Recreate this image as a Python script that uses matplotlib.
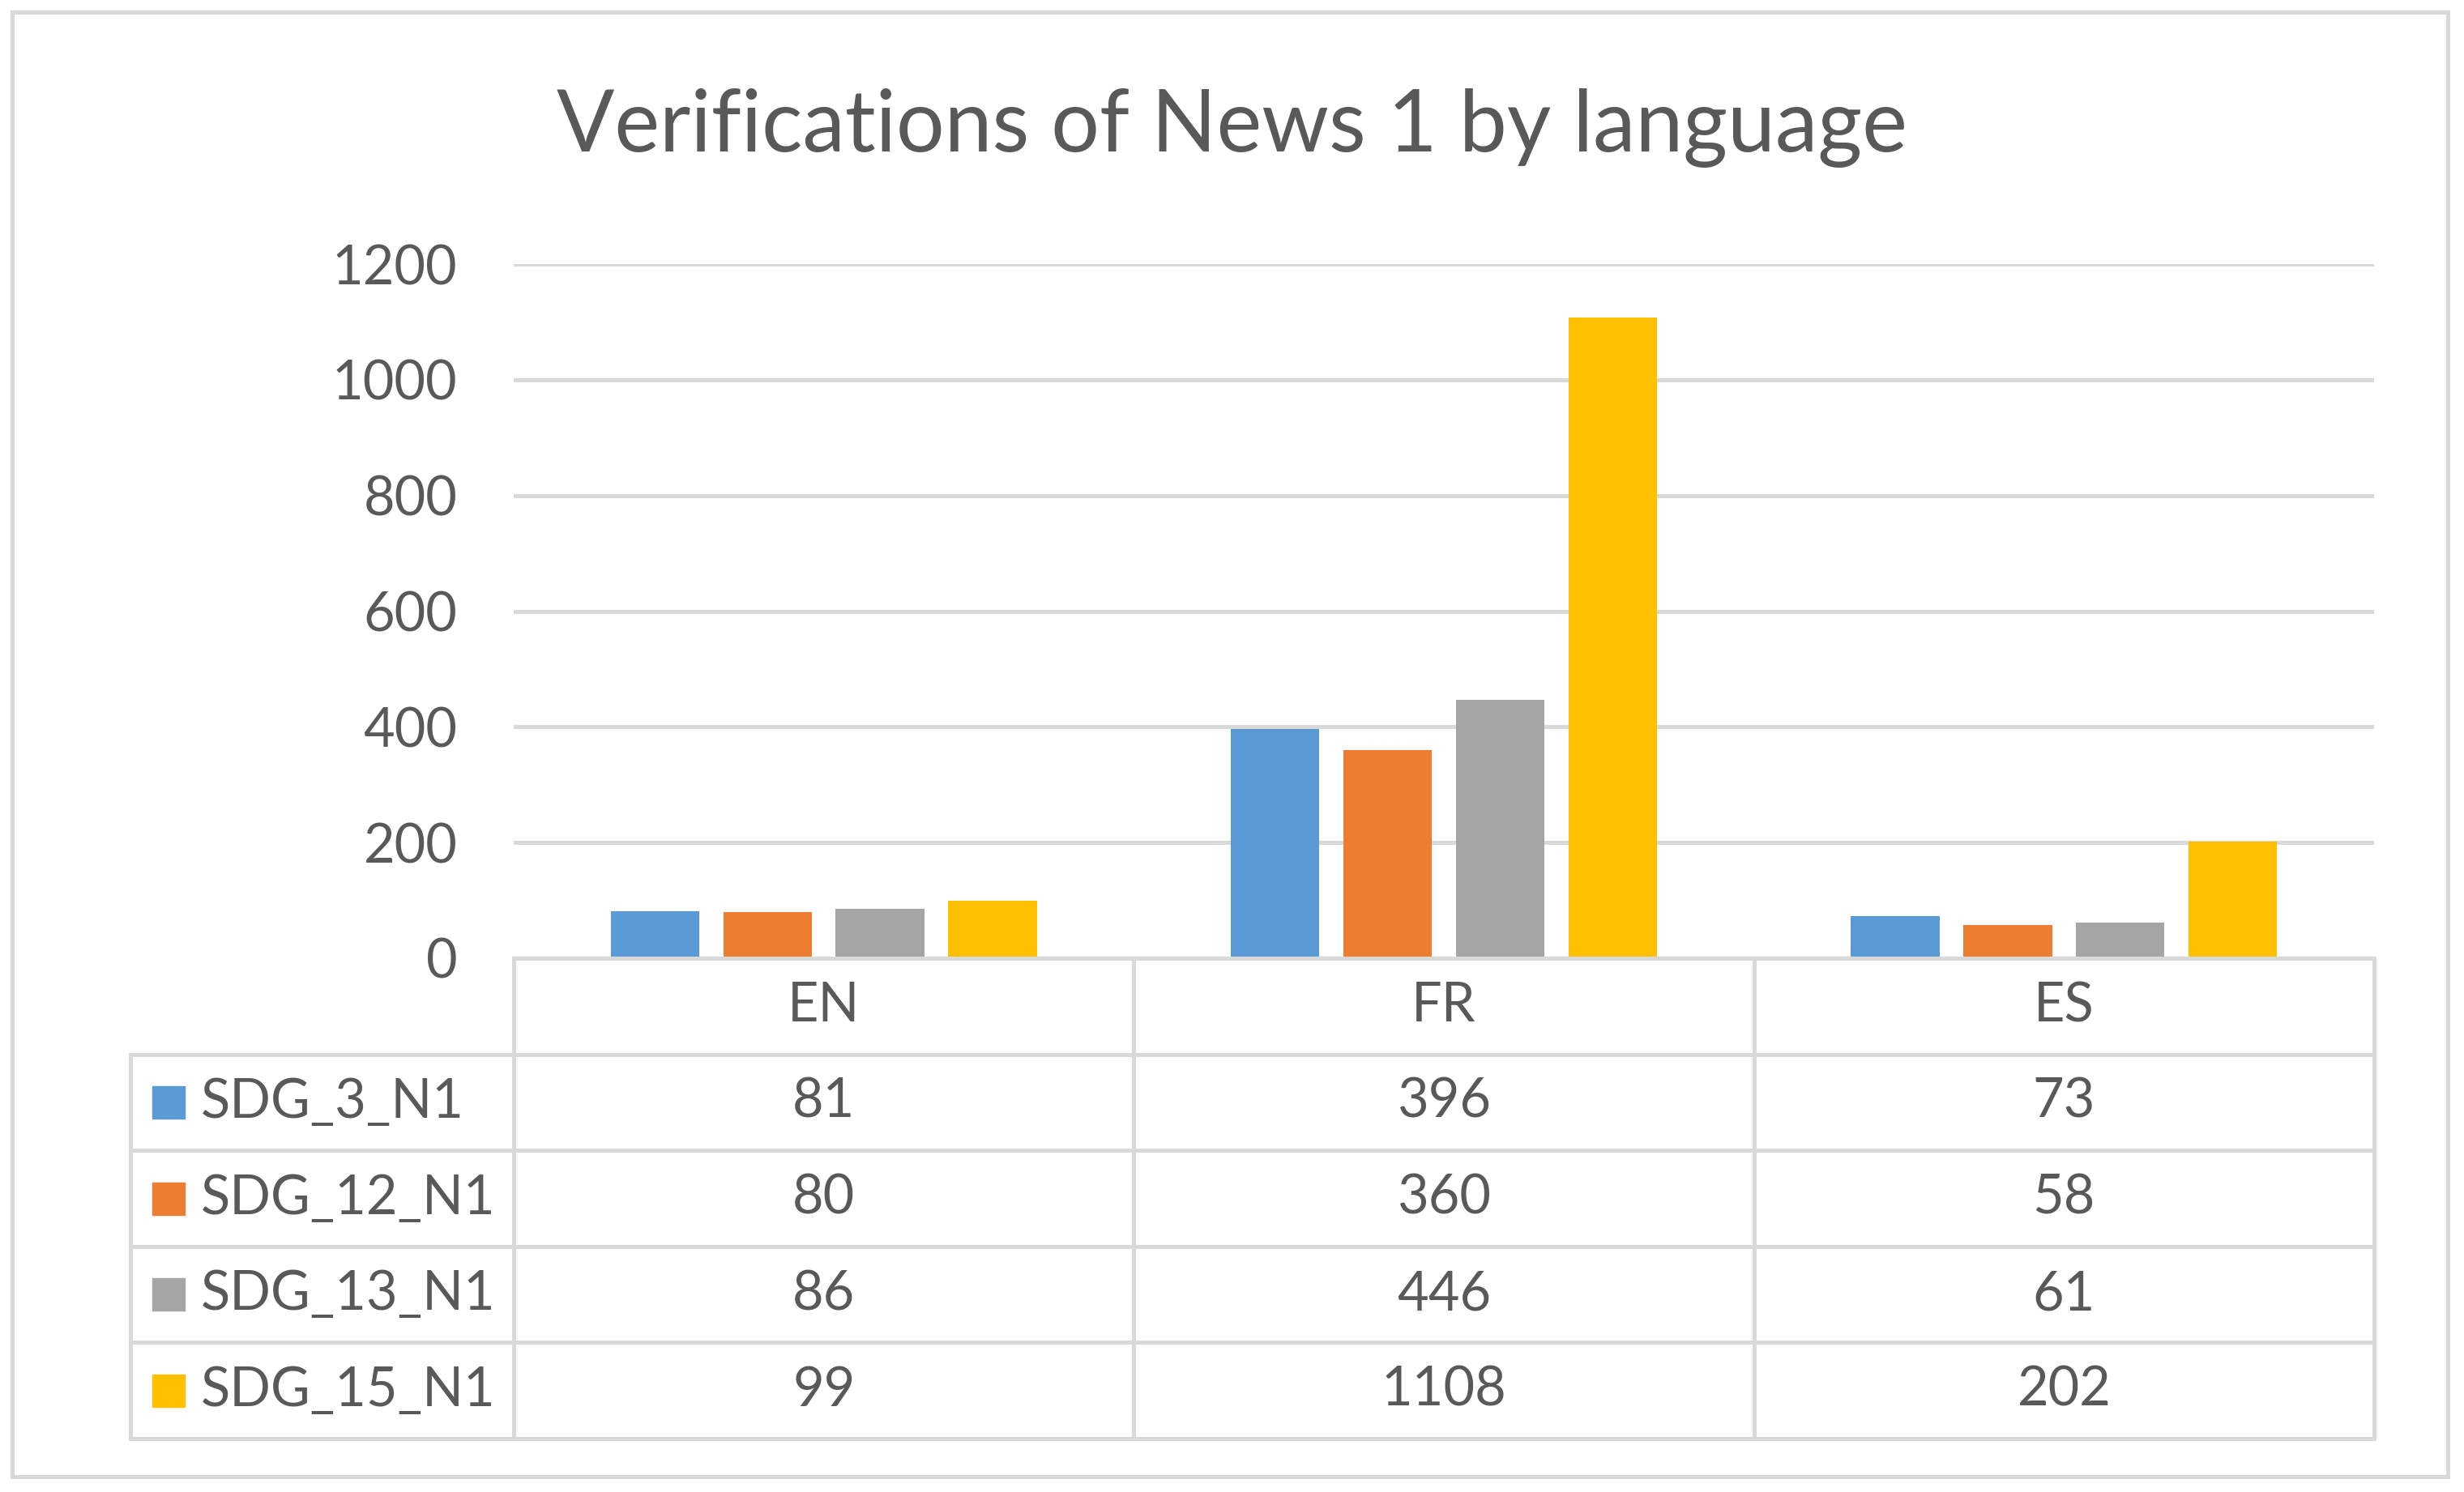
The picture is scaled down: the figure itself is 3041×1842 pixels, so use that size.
import matplotlib
matplotlib.use("Agg")
import matplotlib.pyplot as plt
from matplotlib.lines import Line2D
from matplotlib.patches import Rectangle

plt.rcParams['font.family'] = ['Lato', 'DejaVu Sans']

# ---- data ----
title = "Verifications of News 1 by language"
categories = ["EN", "FR", "ES"]
series_names = ["SDG_3_N1", "SDG_12_N1", "SDG_13_N1", "SDG_15_N1"]
sdg3 = [81, 396, 73]
sdg12 = [80, 360, 58]
sdg13 = [86, 446, 61]
sdg15 = [99, 1108, 202]
series_values = [sdg3, sdg12, sdg13, sdg15]
colors = ["#5B9BD5", "#ED7D31", "#A5A5A5", "#FFC000"]
yticks = [0, 200, 400, 600, 800, 1000, 1200]

TEXT = "#595959"
GRID = "#D9D9D9"
W, H = 3041, 1842
DPI = 100
LW = 5 * 72 / DPI  # 5 px lines
FS = 48

fig = plt.figure(figsize=(W / DPI, H / DPI), dpi=DPI)
fig.patch.set_facecolor("white")

def px_rect(x0, y0, x1, y1):
    return [x0 / W, (H - y1) / H, (x1 - x0) / W, (y1 - y0) / H]

# outer chart border
fig.patches.append(Rectangle((15 / W, (H - 1823) / H), (3021 - 15) / W, (1823 - 15) / H,
                             transform=fig.transFigure, fill=False, edgecolor=GRID,
                             linewidth=LW))

# title
fig.text(0.5, 1 - 158 / H, title, ha="center", va="center", fontsize=76, color=TEXT)

# ---- bar axes ----
ax = fig.add_axes(px_rect(634, 326, 2930, 1183))
n = len(series_names)
bw = 1 / 7.0
step = bw * 1.27
xs = list(range(len(categories)))
for i, (vals, c) in enumerate(zip(series_values, colors)):
    ax.bar([x + (i - (n - 1) / 2) * step for x in xs], vals, width=bw, color=c, zorder=3)
ax.set_xlim(-0.5, 2.5)
ax.set_ylim(0, 1200)
ax.set_yticks(yticks)
ax.set_yticklabels([str(t) for t in yticks], fontsize=FS, color=TEXT)
ax.tick_params(axis="y", length=0, pad=50)
ax.set_xticks([])
for s in ax.spines.values():
    s.set_visible(False)
ax.yaxis.grid(True, color=GRID, linewidth=LW, zorder=0)
ax.set_axisbelow(True)
ax.patch.set_alpha(0)

# ---- data table ----
L = -0.5 - (634 - 161) / ((2930 - 634) / 3)
tax = fig.add_axes(px_rect(161, 1183, 2930, 1776))
tax.set_xlim(L, 2.5)
tax.set_ylim(5, 0)
tax.axis("off")

def tline(xd, yd):
    tax.add_line(Line2D(xd, yd, color=GRID, linewidth=LW, clip_on=False,
                        solid_capstyle="projecting", zorder=2))

tline([-0.5, 2.5], [0, 0])
for r in range(1, 6):
    tline([L, 2.5], [r, r])
tline([L, L], [1, 5])
for xb in [-0.5, 0.5, 1.5, 2.5]:
    tline([xb, xb], [0, 5])

for j, cat in enumerate(categories):
    tax.text(j, 0.5, cat, ha="center", va="center", fontsize=FS, color=TEXT)

for i, (name, vals, c) in enumerate(zip(series_names, series_values, colors)):
    y = i + 1.5
    tax.plot([L + 0.0614], [y], marker="s", markersize=29, color=c, linestyle="none",
             clip_on=False)
    tax.text(L + 0.1137, y, name, ha="left", va="center", fontsize=FS, color=TEXT)
    for j, v in enumerate(vals):
        tax.text(j, y, str(v), ha="center", va="center", fontsize=FS, color=TEXT)

fig.savefig("out.png", dpi=DPI, facecolor="white")
